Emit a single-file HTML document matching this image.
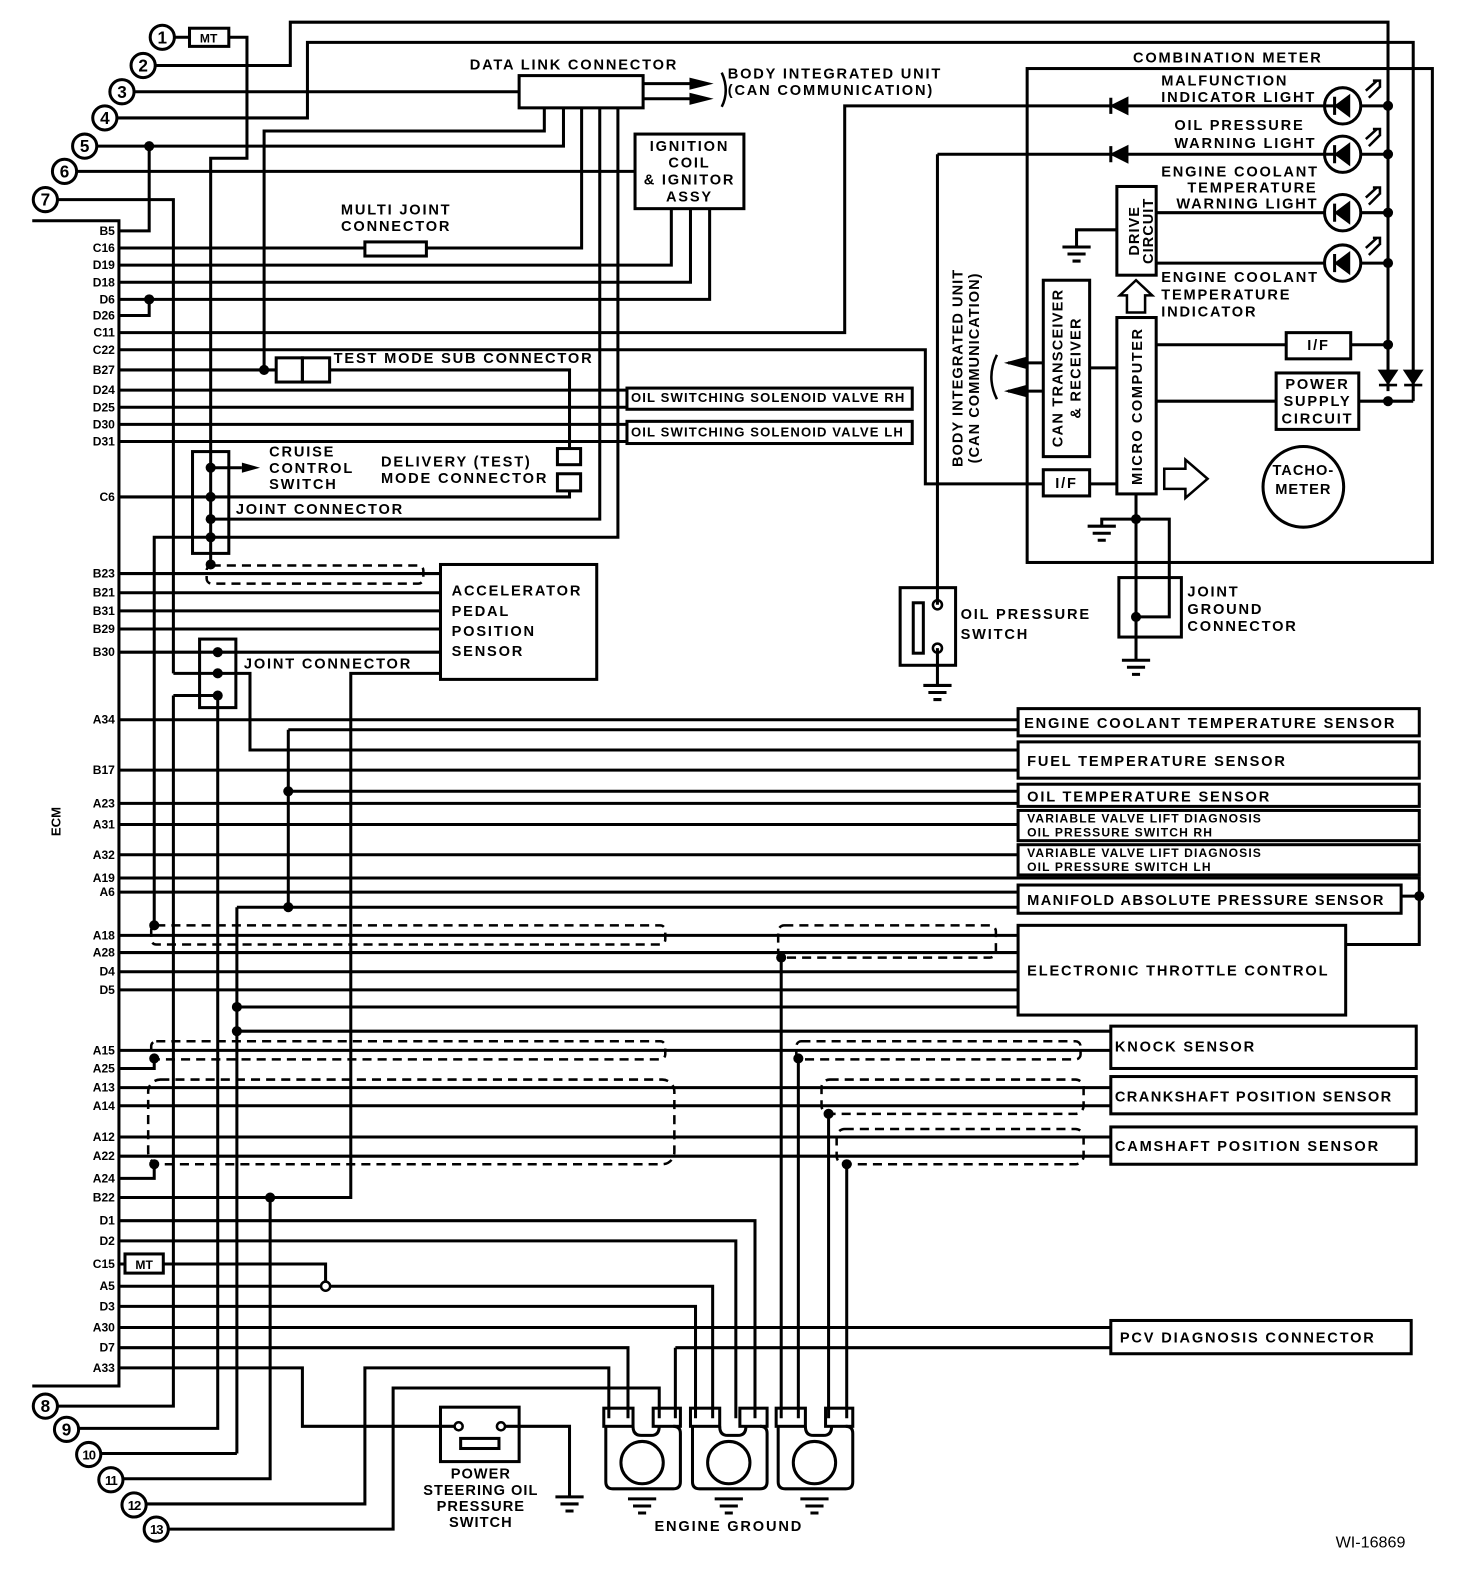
<!DOCTYPE html>
<html><head><meta charset="utf-8"><style>
html,body{margin:0;padding:0;background:#fff;}
svg{display:block;}
text{font-family:"Liberation Sans",sans-serif;font-weight:bold;fill:#000;}
</style></head><body>
<svg width="1472" height="1580" viewBox="0 0 1472 1580" xmlns="http://www.w3.org/2000/svg">
<g transform="scale(1.008)">
<g fill="none" stroke="#000" stroke-width="3" stroke-linejoin="miter">
<path d="M32 219H118V1375H32"/>
<path d="M173 37H188M227 37H245V157H209V560"/>
<path d="M154 65H288V22H1377V388"/>
<path d="M133 91H515"/>
<path d="M116 117H305V42H1402V398"/>
<path d="M96 145H559V107"/>
<path d="M76 170H630"/>
<path d="M57 198H172V668"/>
<rect x="515" y="75" width="123" height="32"/>
<path d="M540 107V130H262V367"/>
<path d="M577 107V246H118"/>
<path d="M595 107V515H209"/>
<path d="M613 107V533H153V918"/>
<path d="M638 83H690M638 98H690"/>
<path d="M118 229H148V145"/>
<rect x="362" y="240" width="61" height="14" fill="#fff"/>
<path d="M118 263H666V207M118 280H685V207M118 297H704V207"/>
<path d="M118 313H148V297"/>
<path d="M118 330H838V105H1332"/>
<path d="M118 347H918V480H1035"/>
<path d="M118 367H274"/>
<rect x="274" y="355" width="26" height="24"/><rect x="300" y="355" width="27" height="24"/>
<path d="M327 367H565V445"/>
<rect x="553" y="445" width="23" height="16"/><rect x="553" y="470" width="23" height="17"/>
<path d="M118 493H565V487"/>
<path d="M118 387H622M118 404H622M118 421H622M118 438H622"/>
<rect x="622" y="385" width="283" height="21"/><rect x="622" y="418" width="283" height="22"/>
<rect x="191" y="448" width="36" height="101"/>
<path d="M209 464H240"/>
<rect x="630" y="133" width="108" height="74"/>
<rect x="437" y="560" width="155" height="114"/>
<path d="M118 569H437M118 588H437M118 606H437M118 624H437M118 647H437"/>
<path d="M437 668H348V1188H118"/>
<rect x="198" y="634" width="36" height="68"/>
<path d="M172 668H248V744H1010"/>
<path d="M172 690H216V1417H78"/>
<path d="M172 690V1395H57"/>
<rect x="1010" y="703" width="398" height="27"/>
<rect x="1010" y="736" width="398" height="36"/>
<rect x="1010" y="778" width="398" height="22"/>
<rect x="1010" y="804" width="398" height="30"/>
<rect x="1010" y="838" width="398" height="30"/>
<rect x="1010" y="878" width="380" height="28"/>
<rect x="1010" y="918" width="325" height="89"/>
<path d="M118 714H1010M286 724H1010M118 764H1010M286 785H1010M118 797H1010M118 818H1010M118 848H1010"/>
<path d="M118 871H1408V937H1335M1390 889H1408M118 885H1010M286 724V900H1010M235 900H286M235 900V1023"/>
<path d="M118 928H1010M118 945H1010M118 964H1010M118 982H1010M235 999H1010M235 1023H1102"/>
<rect x="1102" y="1018" width="303" height="42"/>
<rect x="1102" y="1068" width="303" height="37"/>
<rect x="1102" y="1118" width="303" height="37"/>
<rect x="1102" y="1310" width="298" height="33"/>
<path d="M118 1042H1102M118 1060H153V1050M118 1079H1102M118 1097H1102M118 1128H1102M118 1147H1102M118 1169H153V1155"/>
<path d="M775 950V1407M792 1050V1407M822 1105V1407M840 1155V1407"/>
<path d="M118 1211H749V1407M118 1231H730V1407M118 1254H124M162 1254H323V1272M118 1276H319M327 1276H707V1407M118 1296H690V1407M118 1317H1102M118 1337H623V1407M670 1337H1102M670 1337V1407"/>
<rect x="124" y="1244" width="38" height="19"/>
<circle cx="323" cy="1276" r="4.5" stroke-width="2.5"/>
<path d="M118 1357H300V1415H451M501 1415H565V1485"/>
<path d="M268 1188V1467H122M235 1442H100M235 1023V1442"/>
<path d="M145 1492H362V1357H604V1407M167 1517H390V1377H654V1407"/>
<rect x="437" y="1396" width="78" height="54"/>
<rect x="457" y="1427" width="38" height="10"/>
<circle cx="455" cy="1415" r="4" stroke-width="2.5"/><circle cx="497" cy="1415" r="4" stroke-width="2.5"/>
<g id="eg">
<rect x="599" y="1397" width="29" height="18"/><rect x="648" y="1397" width="27" height="18"/>
<path d="M601 1415V1470Q601 1477 608 1477H668Q675 1477 675 1470V1422Q675 1415 668 1415M628 1415Q628 1424 636 1424H646Q654 1424 654 1415"/>
<circle cx="637" cy="1451" r="21"/>
<path d="M623 1487H651M628 1494H646M633 1501H641"/>
</g>
<use href="#eg" x="86"/><use href="#eg" x="171"/>
<path d="M551 1485H579M556 1492H574M561 1499H569"/>
<rect x="1019" y="68" width="402" height="490"/>
<path d="M930 153H1332M930 153V600M930 643V680"/>
<rect x="893" y="583" width="55" height="77"/><rect x="906" y="598" width="10" height="50"/>
<circle cx="930" cy="600" r="4.5" stroke-width="2.5"/><circle cx="930" cy="643" r="4.5" stroke-width="2.5"/>
<path d="M916 680H944M921 687H939M926 694H934"/>
<rect x="1108" y="185" width="39" height="88"/>
<path d="M1147 211H1314M1147 261H1314M1350 105H1377M1350 153H1377M1350 211H1377M1350 261H1377"/>
<path d="M1108 228H1068V245M1054 245H1082M1059 252H1077M1064 259H1072"/>
<rect x="1108" y="315" width="39" height="175"/>
<rect x="1035" y="278" width="46" height="175"/>
<rect x="1035" y="466" width="46" height="26"/>
<rect x="1276" y="330" width="64" height="26"/>
<rect x="1266" y="370" width="82" height="56"/>
<path d="M1147 342H1276M1340 342H1377M1147 398H1266M1348 398H1402M1081 365H1108M1081 480H1108"/>
<path d="M1035 360H1000M1035 388H1000"/>
<path d="M1127 490V655M1127 515H1093V522M1079 522H1107M1084 529H1102M1089 536H1097"/>
<path d="M1127 515H1160V612H1127"/>
<rect x="1110" y="573" width="62" height="59"/>
<path d="M1113 655H1141M1118 662H1136M1123 669H1131"/>
<path d="M1118 310V293H1111L1127 278L1143 293H1136V310Z" stroke-width="2.5"/>
<path d="M1155 465H1176V456L1198 475L1176 494V485H1155Z" stroke-width="2.5"/>
<circle cx="1293" cy="483" r="40"/>
<circle cx="1332" cy="105" r="18"/><circle cx="1332" cy="153" r="18"/><circle cx="1332" cy="211" r="18"/><circle cx="1332" cy="261" r="18"/>
<path d="M989 352Q978 374 989 396" stroke-width="2.5"/>
<path d="M716 72Q724 90 716 106" stroke-width="2.5"/>
<circle cx="161" cy="37" r="12"/><circle cx="142" cy="65" r="12"/><circle cx="121" cy="91" r="12"/><circle cx="104" cy="117" r="12"/><circle cx="84" cy="145" r="12"/><circle cx="64" cy="170" r="12"/><circle cx="45" cy="198" r="12"/>
<circle cx="45" cy="1395" r="12"/><circle cx="66" cy="1418" r="12"/><circle cx="88" cy="1443" r="12"/><circle cx="110" cy="1468" r="12"/><circle cx="133" cy="1493" r="12"/><circle cx="155" cy="1517" r="12"/>
<rect x="188" y="28" width="39" height="18"/>
</g>
<g fill="none" stroke="#000" stroke-width="2.5" stroke-dasharray="9 6">
<rect x="205" y="561" width="215" height="18" rx="5"/>
<rect x="150" y="918" width="510" height="19" rx="5"/>
<rect x="772" y="918" width="216" height="32" rx="6"/>
<rect x="150" y="1033" width="510" height="18" rx="5"/>
<rect x="790" y="1033" width="282" height="18" rx="5"/>
<rect x="147" y="1071" width="522" height="84" rx="12"/>
<rect x="815" y="1071" width="260" height="34" rx="8"/>
<rect x="830" y="1120" width="245" height="35" rx="8"/>
</g>
<g fill="#000">
<circle cx="148" cy="145" r="5"/><circle cx="148" cy="297" r="5"/><circle cx="262" cy="367" r="5"/>
<circle cx="209" cy="464" r="5"/><circle cx="209" cy="493" r="5"/><circle cx="209" cy="515" r="5"/><circle cx="209" cy="533" r="5"/><circle cx="209" cy="560" r="5"/>
<circle cx="216" cy="647" r="5"/><circle cx="216" cy="668" r="5"/><circle cx="216" cy="690" r="5"/>
<circle cx="286" cy="785" r="5"/><circle cx="286" cy="900" r="5"/><circle cx="235" cy="999" r="5"/><circle cx="235" cy="1023" r="5"/>
<circle cx="153" cy="918" r="5"/><circle cx="153" cy="1050" r="5"/><circle cx="153" cy="1155" r="5"/><circle cx="268" cy="1188" r="5"/>
<circle cx="775" cy="950" r="5"/><circle cx="792" cy="1050" r="5"/><circle cx="822" cy="1105" r="5"/><circle cx="840" cy="1155" r="5"/>
<circle cx="1408" cy="889" r="5"/>
<circle cx="1377" cy="105" r="5"/><circle cx="1377" cy="153" r="5"/><circle cx="1377" cy="211" r="5"/><circle cx="1377" cy="261" r="5"/><circle cx="1377" cy="342" r="5"/><circle cx="1377" cy="398" r="5"/>
<circle cx="1127" cy="515" r="5"/><circle cx="1127" cy="612" r="5"/>
<path d="M240 459L258 464L240 469Z"/>
<path d="M684 77L708 83L684 89Z"/><path d="M684 92L708 98L684 104Z"/>
<path d="M1018 354L996 360L1018 366Z"/><path d="M1018 382L996 388L1018 394Z"/>
<path d="M1118 98V112L1104 105ZM1102 97V113" stroke="#000" stroke-width="3"/>
<path d="M1118 146V160L1104 153ZM1102 145V161" stroke="#000" stroke-width="3"/>
<path d="M1338 96V114L1326 105ZM1324 96V114" stroke="#000" stroke-width="3"/>
<path d="M1338 144V162L1326 153ZM1324 144V162" stroke="#000" stroke-width="3"/>
<path d="M1338 202V220L1326 211ZM1324 202V220" stroke="#000" stroke-width="3"/>
<path d="M1338 252V270L1326 261ZM1324 252V270" stroke="#000" stroke-width="3"/>
<path d="M1369 368H1385L1377 380ZM1368 382H1386" stroke="#000" stroke-width="2.5"/>
<path d="M1394 368H1410L1402 380ZM1393 382H1411" stroke="#000" stroke-width="2.5"/>
</g>
<g fill="none" stroke="#000" stroke-width="2.5">
<path d="M1355 90L1366 80M1362 80H1369V87M1358 97L1369 86"/>
<path d="M1355 138L1366 128M1362 128H1369V135M1358 145L1369 134"/>
<path d="M1355 196L1366 186M1362 186H1369V193M1358 203L1369 192"/>
<path d="M1355 246L1366 236M1362 236H1369V243M1358 253L1369 242"/>
</g>
<g font-size="12" text-anchor="end">
<text x="114" y="233">B5</text><text x="114" y="250">C16</text><text x="114" y="267">D19</text><text x="114" y="284">D18</text><text x="114" y="301">D6</text><text x="114" y="317">D26</text><text x="114" y="334">C11</text><text x="114" y="351">C22</text><text x="114" y="371">B27</text><text x="114" y="391">D24</text><text x="114" y="408">D25</text><text x="114" y="425">D30</text><text x="114" y="442">D31</text><text x="114" y="497">C6</text>
<text x="114" y="573">B23</text><text x="114" y="592">B21</text><text x="114" y="610">B31</text><text x="114" y="628">B29</text><text x="114" y="651">B30</text><text x="114" y="718">A34</text><text x="114" y="768">B17</text><text x="114" y="801">A23</text><text x="114" y="822">A31</text><text x="114" y="852">A32</text><text x="114" y="875">A19</text><text x="114" y="889">A6</text>
<text x="114" y="932">A18</text><text x="114" y="949">A28</text><text x="114" y="968">D4</text><text x="114" y="986">D5</text><text x="114" y="1046">A15</text><text x="114" y="1064">A25</text><text x="114" y="1083">A13</text><text x="114" y="1101">A14</text><text x="114" y="1132">A12</text><text x="114" y="1151">A22</text><text x="114" y="1173">A24</text><text x="114" y="1192">B22</text><text x="114" y="1215">D1</text><text x="114" y="1235">D2</text><text x="114" y="1258">C15</text><text x="114" y="1280">A5</text><text x="114" y="1300">D3</text><text x="114" y="1321">A30</text><text x="114" y="1341">D7</text><text x="114" y="1361">A33</text>
</g>
<text font-size="13" transform="translate(60,815) rotate(-90)" text-anchor="middle">ECM</text>
<g font-size="17" text-anchor="middle">
<text x="161" y="43">1</text><text x="142" y="71">2</text><text x="121" y="97">3</text><text x="104" y="123">4</text><text x="84" y="151">5</text><text x="64" y="176">6</text><text x="45" y="204">7</text>
<text x="45" y="1401">8</text><text x="66" y="1424">9</text><text x="88" y="1448" font-size="13" letter-spacing="-1">10</text><text x="110" y="1473" font-size="13" letter-spacing="-1">11</text><text x="133" y="1498" font-size="13" letter-spacing="-1">12</text><text x="155" y="1522" font-size="13" letter-spacing="-1">13</text>
</g>
<g font-size="12"><text x="207" y="42" text-anchor="middle">MT</text><text x="143" y="1259" text-anchor="middle">MT</text></g>
<g font-size="14.5" letter-spacing="1.8">
<text x="466" y="69">DATA LINK CONNECTOR</text>
<text x="722" y="78">BODY INTEGRATED UNIT</text><text x="722" y="94">(CAN COMMUNICATION)</text>
<text x="1124" y="62">COMBINATION METER</text>
<text x="684" y="150" text-anchor="middle">IGNITION</text><text x="684" y="166" text-anchor="middle">COIL</text><text x="684" y="183" text-anchor="middle">&amp; IGNITOR</text><text x="684" y="200" text-anchor="middle">ASSY</text>
<text x="393" y="213" text-anchor="middle">MULTI JOINT</text><text x="393" y="229" text-anchor="middle">CONNECTOR</text>
<text x="331" y="360">TEST MODE SUB CONNECTOR</text>
<text x="267" y="453">CRUISE</text><text x="267" y="469">CONTROL</text><text x="267" y="485">SWITCH</text>
<text x="378" y="463">DELIVERY (TEST)</text><text x="378" y="479">MODE CONNECTOR</text>
<text x="234" y="510">JOINT CONNECTOR</text>
<text x="448" y="591">ACCELERATOR</text><text x="448" y="611">PEDAL</text><text x="448" y="631">POSITION</text><text x="448" y="651">SENSOR</text>
<text x="242" y="663">JOINT CONNECTOR</text>
<text x="953" y="614">OIL PRESSURE</text><text x="953" y="634">SWITCH</text>
<text x="1178" y="592">JOINT</text><text x="1178" y="609">GROUND</text><text x="1178" y="626">CONNECTOR</text>
<text x="1152" y="85">MALFUNCTION</text><text x="1152" y="101">INDICATOR LIGHT</text>
<text x="1165" y="129">OIL PRESSURE</text><text x="1165" y="147">WARNING LIGHT</text>
<text x="1152" y="175">ENGINE COOLANT</text><text x="1178" y="191">TEMPERATURE</text><text x="1167" y="207">WARNING LIGHT</text>
<text x="1152" y="280">ENGINE COOLANT</text><text x="1152" y="297">TEMPERATURE</text><text x="1152" y="314">INDICATOR</text>
<text x="1308" y="347" text-anchor="middle">I/F</text><text x="1058" y="484" text-anchor="middle">I/F</text>
<text x="1307" y="386" text-anchor="middle">POWER</text><text x="1307" y="403" text-anchor="middle">SUPPLY</text><text x="1307" y="420" text-anchor="middle">CIRCUIT</text>
<text x="1293" y="471" text-anchor="middle" letter-spacing="1">TACHO-</text><text x="1293" y="490" text-anchor="middle" letter-spacing="1">METER</text>
<text transform="translate(1130,229) rotate(-90)" text-anchor="middle" letter-spacing="1">DRIVE</text><text transform="translate(1144,229) rotate(-90)" text-anchor="middle" letter-spacing="1">CIRCUIT</text>
<text transform="translate(1054,365) rotate(-90)" text-anchor="middle" letter-spacing="1.2">CAN TRANSCEIVER</text><text transform="translate(1072,365) rotate(-90)" text-anchor="middle" letter-spacing="1.2">&amp; RECEIVER</text>
<text transform="translate(1133,403) rotate(-90)" text-anchor="middle" letter-spacing="1.5">MICRO COMPUTER</text>
<text transform="translate(955,365) rotate(-90)" text-anchor="middle" letter-spacing="1">BODY INTEGRATED UNIT</text><text transform="translate(971,365) rotate(-90)" text-anchor="middle" letter-spacing="1">(CAN COMMUNICATION)</text>
<text x="1016" y="722">ENGINE COOLANT TEMPERATURE SENSOR</text>
<text x="1019" y="760">FUEL TEMPERATURE SENSOR</text>
<text x="1019" y="795">OIL TEMPERATURE SENSOR</text>
<text x="1019" y="898" letter-spacing="1.4">MANIFOLD ABSOLUTE PRESSURE SENSOR</text>
<text x="1019" y="968">ELECTRONIC THROTTLE CONTROL</text>
<text x="1106" y="1043">KNOCK SENSOR</text>
<text x="1106" y="1093" letter-spacing="1.4">CRANKSHAFT POSITION SENSOR</text>
<text x="1106" y="1142">CAMSHAFT POSITION SENSOR</text>
<text x="1111" y="1332">PCV DIAGNOSIS CONNECTOR</text>
<text x="477" y="1467" text-anchor="middle" letter-spacing="1">POWER</text><text x="477" y="1483" text-anchor="middle" letter-spacing="1">STEERING OIL</text><text x="477" y="1499" text-anchor="middle" letter-spacing="1">PRESSURE</text><text x="477" y="1515" text-anchor="middle" letter-spacing="1">SWITCH</text>
<text x="723" y="1519" text-anchor="middle">ENGINE GROUND</text>
</g>
<g font-size="13" letter-spacing="1.1">
<text x="626" y="399">OIL SWITCHING SOLENOID VALVE RH</text>
<text x="626" y="433">OIL SWITCHING SOLENOID VALVE LH</text>
</g>
<g font-size="12" letter-spacing="1.1">
<text x="1019" y="816">VARIABLE VALVE LIFT DIAGNOSIS</text><text x="1019" y="830">OIL PRESSURE SWITCH RH</text>
<text x="1019" y="850">VARIABLE VALVE LIFT DIAGNOSIS</text><text x="1019" y="864">OIL PRESSURE SWITCH LH</text>
</g>
<text x="1325" y="1535" font-size="16" style="font-weight:normal">WI-16869</text>
</g>
</svg>
</body></html>
